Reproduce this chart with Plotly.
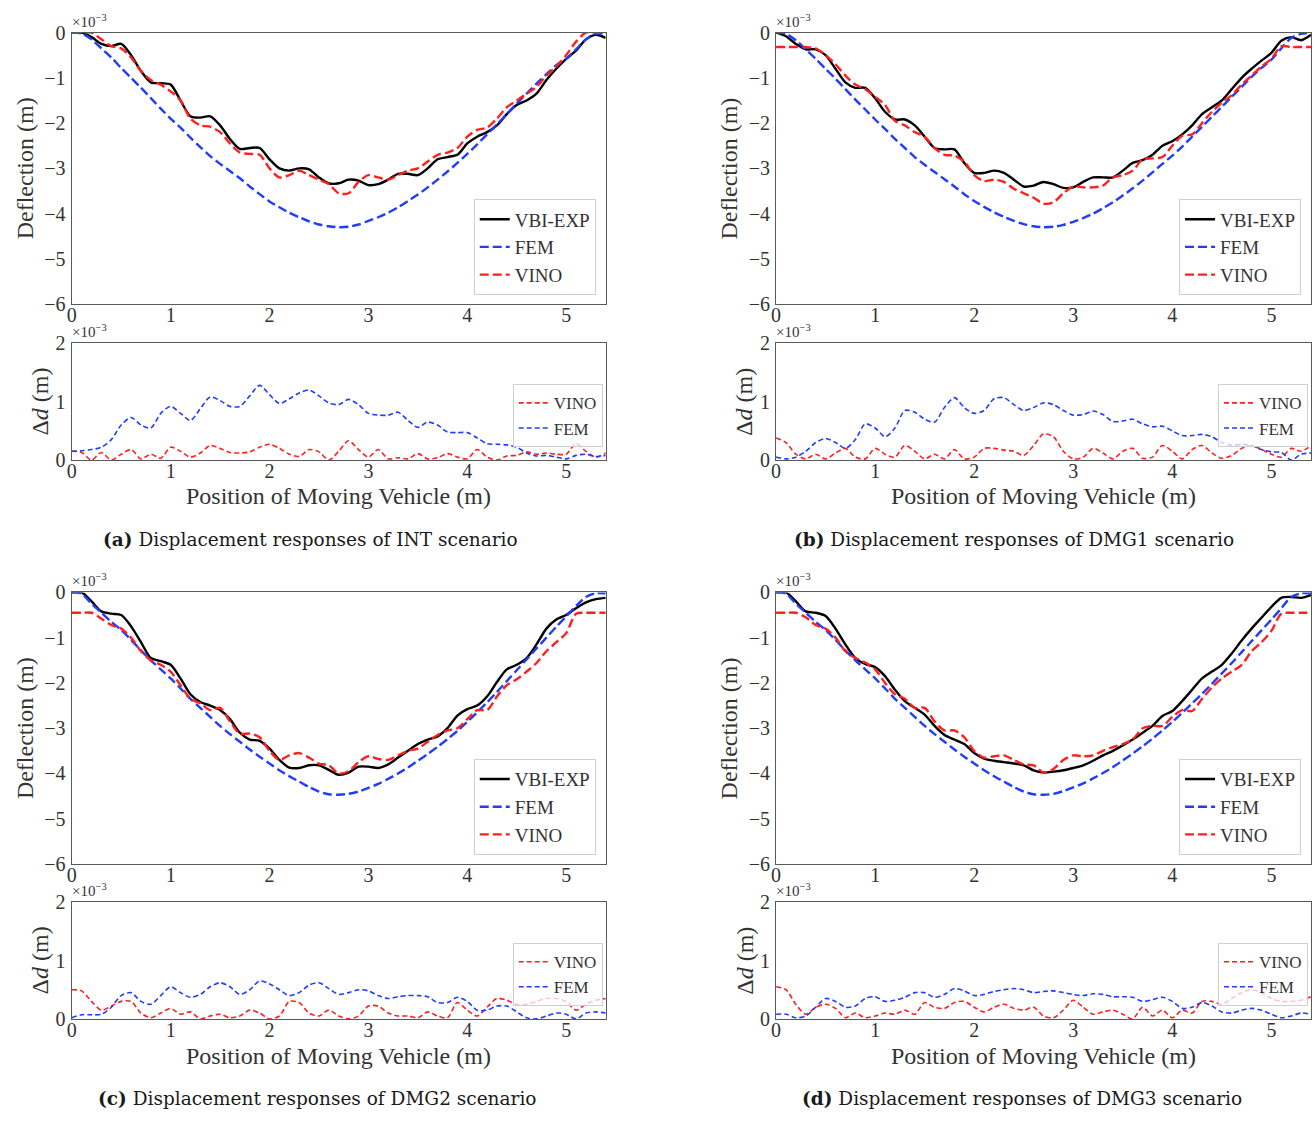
import plotly.graph_objects as go

W, H = 1315, 1125

POS = [0.0, 0.1, 0.2, 0.3, 0.4, 0.5, 0.6, 0.7, 0.8, 0.9, 1.0, 1.1, 1.2, 1.3, 1.4, 1.5, 1.6, 1.7, 1.8, 1.9,
       2.0, 2.1, 2.2, 2.3, 2.4, 2.5, 2.6, 2.7, 2.8, 2.9, 3.0, 3.1, 3.2, 3.3, 3.4, 3.5, 3.6, 3.7, 3.8, 3.9,
       4.0, 4.1, 4.2, 4.3, 4.4, 4.5, 4.6, 4.7, 4.8, 4.9, 5.0, 5.1, 5.2, 5.3, 5.4]
X_TICKS = [0, 1, 2, 3, 4, 5]
TOP_TICKS = [0, -1, -2, -3, -4, -5, -6]
BOT_TICKS = [0, 1, 2]

# ---------------- (a) INT ----------------
EXP_A = [0, 0, -0.1, -0.25, -0.3, -0.25, -0.5, -0.85, -1.1, -1.12, -1.15, -1.5, -1.85, -1.88, -1.85, -2.05, -2.35, -2.57, -2.55, -2.55,
         -2.8, -3.0, -3.05, -3.0, -3.02, -3.2, -3.33, -3.33, -3.25, -3.27, -3.37, -3.35, -3.25, -3.12, -3.12, -3.15, -3.0, -2.8, -2.75, -2.7,
         -2.45, -2.3, -2.2, -2.05, -1.8, -1.6, -1.5, -1.35, -1.05, -0.8, -0.58, -0.4, -0.15, -0.05, -0.12]
FEM_A = [0, -0.02, -0.15, -0.35, -0.55, -0.78, -1.0, -1.22, -1.45, -1.68, -1.9, -2.1, -2.32, -2.53, -2.73, -2.9, -3.06, -3.22, -3.4, -3.57,
         -3.73, -3.86, -3.98, -4.08, -4.17, -4.24, -4.28, -4.30, -4.29, -4.24, -4.16, -4.08, -3.98, -3.86, -3.72, -3.58, -3.42, -3.25, -3.07, -2.88,
         -2.68, -2.47, -2.25, -2.03, -1.8, -1.57, -1.35, -1.13, -0.92, -0.72, -0.58, -0.37, -0.15, -0.03, -0.02]
VINO_A = [0, 0, 0, -0.15, -0.3, -0.35, -0.55, -0.85, -1.05, -1.15, -1.3, -1.5, -1.9, -2.05, -2.08, -2.2, -2.45, -2.65, -2.68, -2.7,
          -3.0, -3.2, -3.15, -3.05, -3.15, -3.25, -3.35, -3.55, -3.55, -3.3, -3.15, -3.2, -3.25, -3.15, -3.05, -3.0, -2.85, -2.7, -2.65, -2.55,
          -2.3, -2.15, -2.1, -1.9, -1.65, -1.5, -1.35, -1.2, -0.95, -0.75, -0.5, -0.2, 0, 0, 0]
DD_FEM_A = [0.15, 0.16, 0.18, 0.22, 0.35, 0.6, 0.73, 0.6, 0.55, 0.8, 0.92, 0.8, 0.68, 0.88, 1.08, 1.02, 0.92, 0.92, 1.1, 1.28,
            1.12, 0.97, 1.05, 1.15, 1.2, 1.1, 0.98, 0.95, 1.04, 0.95, 0.8, 0.77, 0.77, 0.82, 0.68, 0.56, 0.65, 0.6, 0.48, 0.47,
            0.47, 0.38, 0.28, 0.27, 0.26, 0.22, 0.12, 0.07, 0.08, 0.05, 0.02, 0.08, 0.1, 0.06, 0.08]
DD_VINO_A = [0.15, 0.13, 0.0, 0.13, 0.0, 0.1, 0.18, 0.02, 0.1, 0.03, 0.22, 0.15, 0.05, 0.12, 0.25, 0.2, 0.13, 0.12, 0.14, 0.22,
             0.27, 0.2, 0.1, 0.06, 0.18, 0.14, 0.0, 0.15, 0.33, 0.18, 0.05, 0.18, 0.02, 0.04, 0.02, 0.11, 0.02, 0.04, 0.11, 0.05,
             0.02, 0.18, 0.05, 0.0, 0.07, 0.08, 0.14, 0.1, 0.12, 0.1, 0.1, 0.28, 0.15, 0.05, 0.12]

# ---------------- (b) DMG1 ----------------
EXP_B = [0, -0.08, -0.25, -0.37, -0.37, -0.5, -0.8, -1.1, -1.22, -1.22, -1.45, -1.75, -1.92, -1.92, -2.05, -2.3, -2.55, -2.58, -2.58, -2.88,
         -3.1, -3.1, -3.05, -3.1, -3.25, -3.4, -3.38, -3.3, -3.35, -3.43, -3.42, -3.3, -3.2, -3.2, -3.2, -3.05, -2.88, -2.82, -2.7, -2.5,
         -2.4, -2.25, -2.05, -1.8, -1.65, -1.5, -1.25, -1.0, -0.8, -0.62, -0.45, -0.18, -0.1, -0.17, -0.05]
FEM_B = [0, -0.03, -0.17, -0.37, -0.58, -0.8, -1.02, -1.25, -1.48, -1.7, -1.92, -2.13, -2.35, -2.55, -2.75, -2.92, -3.08, -3.24, -3.4, -3.57,
         -3.72, -3.85, -3.97, -4.07, -4.16, -4.23, -4.28, -4.30, -4.29, -4.25, -4.18, -4.1, -4.0, -3.88, -3.75, -3.6, -3.44, -3.27, -3.09, -2.9,
         -2.72, -2.52, -2.3, -2.08, -1.86, -1.64, -1.42, -1.2, -0.98, -0.78, -0.6, -0.35, -0.12, -0.03, 0]
VINO_B = [-0.32, -0.32, -0.32, -0.32, -0.35, -0.5, -0.7, -0.95, -1.15, -1.25, -1.42, -1.6, -1.95, -2.05, -2.2, -2.3, -2.55, -2.7, -2.72, -2.85,
          -3.15, -3.28, -3.25, -3.3, -3.45, -3.55, -3.65, -3.78, -3.75, -3.55, -3.4, -3.42, -3.42, -3.38, -3.2, -3.15, -3.05, -2.8, -2.78, -2.75,
          -2.5, -2.28, -2.25, -2.0, -1.75, -1.55, -1.38, -1.15, -0.95, -0.75, -0.58, -0.3, -0.32, -0.32, -0.32]
DD_FEM_B = [0.05, 0.02, 0.05, 0.15, 0.3, 0.37, 0.3, 0.2, 0.35, 0.62, 0.55, 0.4, 0.55, 0.85, 0.82, 0.7, 0.65, 0.9, 1.07, 0.9,
            0.8, 0.85, 1.05, 1.07, 0.95, 0.85, 0.9, 0.98, 0.95, 0.85, 0.77, 0.78, 0.84, 0.78, 0.66, 0.67, 0.7, 0.62, 0.57, 0.58,
            0.5, 0.42, 0.42, 0.44, 0.4, 0.3, 0.25, 0.27, 0.25, 0.18, 0.14, 0.13, 0.0, 0.1, 0.12]
DD_VINO_B = [0.38, 0.3, 0.1, 0.02, 0.1, 0.02, 0.12, 0.2, 0.05, 0.02, 0.2, 0.1, 0.05, 0.25, 0.15, 0.02, 0.1, 0.02, 0.18, 0.02,
             0.05, 0.2, 0.2, 0.17, 0.15, 0.08, 0.25, 0.45, 0.4, 0.15, 0.02, 0.05, 0.2, 0.12, 0.02, 0.15, 0.2, 0.03, 0.05, 0.25,
             0.15, 0.02, 0.18, 0.25, 0.12, 0.03, 0.08, 0.2, 0.25, 0.18, 0.1, 0.05, 0.2, 0.15, 0.25]

# ---------------- (c) DMG2 ----------------
EXP_C = [0, 0, -0.2, -0.42, -0.47, -0.5, -0.75, -1.1, -1.45, -1.52, -1.6, -1.9, -2.25, -2.42, -2.5, -2.6, -2.8, -3.1, -3.25, -3.28,
         -3.45, -3.7, -3.87, -3.88, -3.82, -3.82, -3.92, -4.03, -3.98, -3.85, -3.85, -3.88, -3.8, -3.65, -3.5, -3.35, -3.25, -3.18, -3.0, -2.72,
         -2.58, -2.5, -2.3, -1.98, -1.7, -1.6, -1.45, -1.15, -0.8, -0.6, -0.5, -0.35, -0.22, -0.15, -0.12]
FEM_C = [0, -0.03, -0.25, -0.45, -0.65, -0.83, -1.05, -1.28, -1.5, -1.7, -1.9, -2.12, -2.35, -2.55, -2.75, -2.95, -3.13, -3.3, -3.47, -3.63,
         -3.78, -3.93, -4.06, -4.18, -4.3, -4.4, -4.46, -4.47, -4.45, -4.4, -4.32, -4.23, -4.12, -4.0, -3.87, -3.72, -3.57, -3.41, -3.24, -3.06,
         -2.86, -2.65, -2.43, -2.2, -1.96, -1.72, -1.48, -1.24, -1.0, -0.76, -0.53, -0.3, -0.1, -0.02, -0.02]
VINO_C = [-0.45, -0.45, -0.45, -0.58, -0.72, -0.8, -1.0, -1.3, -1.5, -1.6, -1.75, -2.05, -2.35, -2.45, -2.6, -2.55, -2.85, -3.12, -3.12, -3.2,
          -3.5, -3.7, -3.6, -3.55, -3.65, -3.78, -3.82, -4.0, -3.95, -3.75, -3.62, -3.68, -3.7, -3.6, -3.5, -3.45, -3.3, -3.15, -3.05, -3.0,
          -2.8, -2.6, -2.6, -2.3, -2.05, -1.92, -1.75, -1.56, -1.3, -1.1, -0.9, -0.47, -0.45, -0.45, -0.45]
DD_FEM_C = [0.02, 0.07, 0.07, 0.08, 0.2, 0.4, 0.45, 0.3, 0.25, 0.4, 0.55, 0.45, 0.37, 0.42, 0.55, 0.62, 0.55, 0.42, 0.5, 0.65,
            0.6, 0.5, 0.4, 0.45, 0.58, 0.62, 0.52, 0.42, 0.45, 0.5, 0.48, 0.4, 0.35, 0.38, 0.4, 0.4, 0.38, 0.28, 0.28, 0.37,
            0.3, 0.15, 0.15, 0.22, 0.22, 0.12, 0.02, 0.0, 0.05, 0.1, 0.08, 0.0, 0.1, 0.12, 0.1]
DD_VINO_C = [0.5, 0.48, 0.3, 0.15, 0.22, 0.3, 0.3, 0.1, 0.02, 0.1, 0.18, 0.08, 0.12, 0.0, 0.05, 0.08, 0.02, 0.05, 0.15, 0.1,
             0.0, 0.05, 0.3, 0.28, 0.1, 0.05, 0.15, 0.05, 0.0, 0.05, 0.22, 0.22, 0.1, 0.05, 0.05, 0.02, 0.12, 0.05, 0.02, 0.28,
             0.15, 0.05, 0.2, 0.35, 0.32, 0.25, 0.25, 0.3, 0.35, 0.35, 0.3, 0.15, 0.25, 0.32, 0.35]

# ---------------- (d) DMG3 ----------------
EXP_D = [0, 0, -0.2, -0.42, -0.45, -0.52, -0.8, -1.15, -1.45, -1.58, -1.65, -1.85, -2.15, -2.4, -2.55, -2.7, -2.95, -3.15, -3.25, -3.35,
         -3.55, -3.67, -3.72, -3.75, -3.78, -3.82, -3.93, -3.98, -3.96, -3.93, -3.88, -3.82, -3.72, -3.6, -3.5, -3.38, -3.25, -3.1, -2.95, -2.73,
         -2.62, -2.4, -2.15, -1.9, -1.75, -1.6, -1.35, -1.06, -0.8, -0.56, -0.32, -0.12, -0.1, -0.12, -0.06]
FEM_D = [0, -0.03, -0.25, -0.45, -0.65, -0.83, -1.05, -1.28, -1.5, -1.7, -1.9, -2.12, -2.35, -2.55, -2.75, -2.95, -3.13, -3.3, -3.47, -3.63,
         -3.78, -3.93, -4.06, -4.18, -4.3, -4.4, -4.46, -4.47, -4.45, -4.39, -4.31, -4.22, -4.11, -3.99, -3.86, -3.71, -3.56, -3.4, -3.23, -3.05,
         -2.86, -2.66, -2.45, -2.24, -2.02, -1.79, -1.56, -1.32, -1.08, -0.84, -0.6, -0.35, -0.1, -0.02, -0.02]
VINO_D = [-0.45, -0.45, -0.45, -0.55, -0.72, -0.8, -1.0, -1.3, -1.45, -1.55, -1.7, -2.0, -2.25, -2.35, -2.55, -2.55, -2.85, -3.05, -3.05, -3.2,
          -3.5, -3.65, -3.62, -3.6, -3.7, -3.8, -3.82, -3.98, -3.9, -3.7, -3.6, -3.62, -3.6, -3.5, -3.42, -3.35, -3.25, -3.0, -2.95, -2.95,
          -2.75, -2.6, -2.62, -2.35, -2.1, -1.9, -1.75, -1.6, -1.3, -1.1, -0.85, -0.47, -0.45, -0.45, -0.45]
DD_FEM_D = [0.08, 0.08, 0.02, 0.05, 0.2, 0.35, 0.3, 0.2, 0.22, 0.35, 0.38, 0.3, 0.32, 0.37, 0.45, 0.45, 0.37, 0.42, 0.52, 0.48,
            0.4, 0.42, 0.47, 0.5, 0.52, 0.5, 0.45, 0.47, 0.48, 0.45, 0.42, 0.4, 0.43, 0.42, 0.38, 0.38, 0.37, 0.3, 0.33, 0.37,
            0.3, 0.18, 0.2, 0.28, 0.22, 0.12, 0.1, 0.15, 0.18, 0.15, 0.08, 0.02, 0.05, 0.1, 0.08]
DD_VINO_D = [0.55, 0.5, 0.25, 0.08, 0.2, 0.25, 0.18, 0.02, 0.1, 0.02, 0.05, 0.1, 0.08, 0.15, 0.08, 0.28, 0.2, 0.18, 0.28, 0.3,
             0.2, 0.12, 0.2, 0.25, 0.18, 0.15, 0.2, 0.05, 0.02, 0.15, 0.32, 0.2, 0.08, 0.12, 0.15, 0.08, 0.0, 0.2, 0.05, 0.15,
             0.02, 0.15, 0.1, 0.3, 0.3, 0.25, 0.35, 0.45, 0.5, 0.45, 0.35, 0.3, 0.3, 0.32, 0.38]

CAPTIONS = [("(a)", "Displacement responses of INT scenario"),
            ("(b)", "Displacement responses of DMG1 scenario"),
            ("(c)", "Displacement responses of DMG2 scenario"),
            ("(d)", "Displacement responses of DMG3 scenario")]

# ---------------- style ----------------
SERIF = "Liberation Serif"
CAP_FONT = "DejaVu Serif"
BLACK, BLUE, RED = "#000000", "#1f3cff", "#ff1f1f"
FRAME = "#5a5a5a"
TXT = "#333333"


def px_x(p):
    return p / W


def px_y(p):
    return 1 - p / H


PANELS = [
    dict(x0=67, x1=603, t0=22, t1=299, b0=339, b1=458, cap_cx=307, cap_y=539, xt_y=495),
    dict(x0=774, x1=1311, t0=22, t1=299, b0=339, b1=458, cap_cx=1013, cap_y=539, xt_y=495),
    dict(x0=67, x1=603, t0=593, t1=870, b0=909, b1=1028, cap_cx=313, cap_y=1109, xt_y=1066),
    dict(x0=774, x1=1311, t0=593, t1=870, b0=909, b1=1028, cap_cx=1021, cap_y=1109, xt_y=1066),
]
DATA = [
    (EXP_A, FEM_A, VINO_A, DD_VINO_A, DD_FEM_A),
    (EXP_B, FEM_B, VINO_B, DD_VINO_B, DD_FEM_B),
    (EXP_C, FEM_C, VINO_C, DD_VINO_C, DD_FEM_C),
    (EXP_D, FEM_D, VINO_D, DD_VINO_D, DD_FEM_D),
]

fig = go.Figure()
layout = dict(
    width=W, height=H, margin=dict(l=0, r=0, t=0, b=0),
    paper_bgcolor="white", plot_bgcolor="white",
    font=dict(family=SERIF, color=TXT),
    showlegend=True,
)
annotations = []

for i, (p, d) in enumerate(zip(PANELS, DATA)):
    exp, fem, vino, ddv, ddf = d
    nt = 2 * i + 1
    nb = 2 * i + 2
    xt_name = "x" if nt == 1 else f"x{nt}"
    yt_name = "y" if nt == 1 else f"y{nt}"
    xb_name, yb_name = f"x{nb}", f"y{nb}"
    leg_t = "legend" if nt == 1 else f"legend{nt}"
    leg_b = f"legend{nb}"

    xdom = [px_x(p["x0"]), px_x(p["x1"])]
    axis_common = dict(showline=True, mirror=True, linecolor=FRAME, linewidth=1.3,
                       showgrid=False, zeroline=False, ticks="",
                       tickfont=dict(family=SERIF, size=20, color=TXT))
    layout["xaxis" if nt == 1 else f"xaxis{nt}"] = dict(
        domain=xdom, anchor=yt_name, range=[0, 5.4], tickvals=X_TICKS, ticklabelstandoff=-7, **axis_common)
    layout["yaxis" if nt == 1 else f"yaxis{nt}"] = dict(
        domain=[px_y(p["t1"]), px_y(p["t0"])], anchor=xt_name, range=[-6, 0], tickvals=TOP_TICKS,
        ticklabelstandoff=1, **axis_common)
    layout[f"xaxis{nb}"] = dict(
        domain=xdom, anchor=yb_name, range=[0, 5.4], tickvals=X_TICKS, ticklabelstandoff=-7, **axis_common)
    layout[f"yaxis{nb}"] = dict(
        domain=[px_y(p["b1"]), px_y(p["b0"])], anchor=xb_name, range=[0, 2], tickvals=BOT_TICKS,
        ticklabelstandoff=1, **axis_common)

    fig.add_trace(go.Scatter(x=POS, y=exp, mode="lines", name="VBI-EXP",
                             line=dict(color=BLACK, width=2.4, shape="spline", smoothing=0.8),
                             xaxis=xt_name, yaxis=yt_name, legend=leg_t))
    fig.add_trace(go.Scatter(x=POS, y=fem, mode="lines", name="FEM",
                             line=dict(color=BLUE, width=2.4, dash="9px,4px", shape="spline", smoothing=0.8),
                             xaxis=xt_name, yaxis=yt_name, legend=leg_t))
    fig.add_trace(go.Scatter(x=POS, y=vino, mode="lines", name="VINO",
                             line=dict(color=RED, width=2.4, dash="9px,4px", shape="spline", smoothing=0.8),
                             xaxis=xt_name, yaxis=yt_name, legend=leg_t))
    fig.add_trace(go.Scatter(x=POS, y=ddv, mode="lines", name="VINO",
                             line=dict(color=RED, width=1.6, dash="5px,3px", shape="spline", smoothing=0.8),
                             xaxis=xb_name, yaxis=yb_name, legend=leg_b))
    fig.add_trace(go.Scatter(x=POS, y=ddf, mode="lines", name="FEM",
                             line=dict(color=BLUE, width=1.6, dash="5px,3px", shape="spline", smoothing=0.8),
                             xaxis=xb_name, yaxis=yb_name, legend=leg_b))

    layout[leg_t] = dict(x=px_x(p["x1"] - 10), y=px_y(p["t1"] - 9), xanchor="right", yanchor="bottom",
                         bgcolor="rgba(255,255,255,0.85)", bordercolor="#d0d0d0", borderwidth=1,
                         font=dict(family=SERIF, size=19, color=TXT), tracegroupgap=0)
    layout[leg_b] = dict(x=px_x(p["x1"] - 3), y=px_y(p["b1"] - 13), xanchor="right", yanchor="bottom",
                         bgcolor="rgba(255,255,255,0.75)", bordercolor="#d0d0d0", borderwidth=1,
                         font=dict(family=SERIF, size=17, color=TXT), tracegroupgap=0)

    for ytop in (p["t0"], p["b0"]):
        annotations.append(dict(x=px_x(p["x0"] - 2), y=px_y(ytop - 1), xref="paper", yref="paper",
                                xanchor="left", yanchor="bottom", showarrow=False,
                                text="×10<sup>−3</sup>", font=dict(family=SERIF, size=15, color=TXT)))
    annotations.append(dict(x=px_x(p["x0"] - 47), y=px_y((p["t0"] + p["t1"]) / 2), xref="paper", yref="paper",
                            xanchor="center", yanchor="middle", textangle=-90, showarrow=False,
                            text="Deflection (m)", font=dict(family=SERIF, size=24, color=TXT)))
    annotations.append(dict(x=px_x(p["x0"] - 32), y=px_y((p["b0"] + p["b1"]) / 2), xref="paper", yref="paper",
                            xanchor="center", yanchor="middle", textangle=-90, showarrow=False,
                            text="Δ<i>d</i> (m)", font=dict(family=SERIF, size=24, color=TXT)))
    annotations.append(dict(x=px_x((p["x0"] + p["x1"]) / 2), y=px_y(p["xt_y"]), xref="paper", yref="paper",
                            xanchor="center", yanchor="middle", showarrow=False,
                            text="Position of Moving Vehicle (m)", font=dict(family=SERIF, size=24, color=TXT)))
    lab, cap = CAPTIONS[i]
    annotations.append(dict(x=px_x(p["cap_cx"]), y=px_y(p["cap_y"]), xref="paper", yref="paper",
                            xanchor="center", yanchor="middle", showarrow=False,
                            text=f"<b>{lab}</b> {cap}", font=dict(family=CAP_FONT, size=18.5, color="#1a1a1a")))

layout["annotations"] = annotations
fig.update_layout(**layout)
fig.write_html("out.html")
